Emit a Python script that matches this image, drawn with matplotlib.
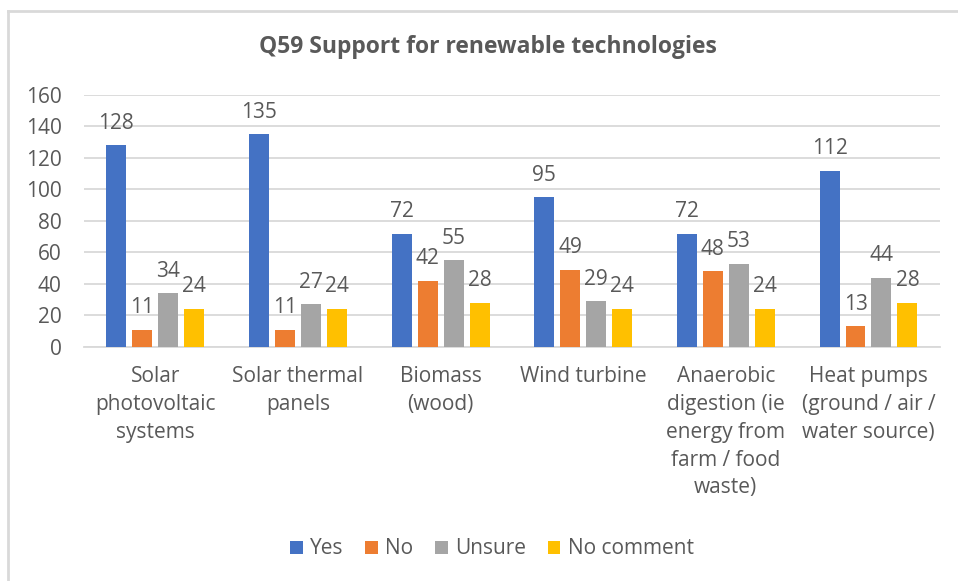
import matplotlib.pyplot as plt
import numpy as np
from matplotlib.lines import Line2D

# data
categories = ['Solar\nphotovoltaic\nsystems', 'Solar thermal\npanels', 'Biomass\n(wood)',
              'Wind turbine', 'Anaerobic\ndigestion (ie\nenergy from\nfarm / food\nwaste)',
              'Heat pumps\n(ground / air /\nwater source)']
series = ['Yes', 'No', 'Unsure', 'No comment']
yes = [128, 135, 72, 95, 72, 112]
no = [11, 11, 42, 49, 48, 13]
unsure = [34, 27, 55, 29, 53, 44]
no_comment = [24, 24, 28, 24, 24, 28]

colors = ['#4472C4', '#ED7D31', '#A5A5A5', '#FFC000']
txt = '#595959'

plt.rcParams['font.family'] = ['Open Sans', 'DejaVu Sans']

fig = plt.figure(figsize=(9.58, 5.81), dpi=100)
ax = fig.add_axes([0.0877, 0.4028, 0.8933, 0.4337])

x = np.arange(len(categories))
w = 0.14
pitch = 0.182
for i, (name, vals) in enumerate(zip(series, [yes, no, unsure, no_comment])):
    pos = x + (i - 1.5) * pitch
    bars = ax.bar(pos, vals, width=w, color=colors[i], label=name, zorder=3)
    for b, v in zip(bars, vals):
        ax.annotate(str(v), (b.get_x() + b.get_width() / 2, v), xytext=(0, 16),
                    textcoords='offset points', ha='center', va='center',
                    fontsize=15, color=txt)

ax.set_xlim(-0.5, 5.5)
ax.set_ylim(0, 160)
ax.set_yticks(range(0, 161, 20))
ax.yaxis.grid(True, color='#D9D9D9', linewidth=1.3, zorder=0)
ax.set_axisbelow(True)
for s in ['top', 'right', 'left']:
    ax.spines[s].set_visible(False)
ax.spines['bottom'].set_color('#D9D9D9')
ax.spines['bottom'].set_linewidth(1.3)
ax.tick_params(axis='both', length=0, labelsize=15, colors=txt)
ax.tick_params(axis='y', pad=16)
ax.tick_params(axis='x', pad=14)
ax.set_xticks(x)
ax.set_xticklabels(categories, linespacing=1.42)

fig.text(0.509, 1 - 47 / 581, 'Q59 Support for renewable technologies', ha='center', va='center',
         fontsize=16.5, fontweight='bold', color=txt)

fig.legend(loc='center', bbox_to_anchor=(492 / 958, 1 - 549 / 581), ncol=4, frameon=False,
           fontsize=15, labelcolor=txt, handlelength=0.6, handleheight=0.6,
           handletextpad=0.35, columnspacing=1.05)

# chart frame edges visible in the screenshot
fig.add_artist(Line2D([8 / 958, 8 / 958], [0, 1 - 11 / 581], transform=fig.transFigure,
                      color='#D9D9D9', linewidth=2))
fig.add_artist(Line2D([8 / 958, 1], [1 - 11 / 581, 1 - 11 / 581], transform=fig.transFigure,
                      color='#D9D9D9', linewidth=2))

fig.savefig('out.png', dpi=100)
